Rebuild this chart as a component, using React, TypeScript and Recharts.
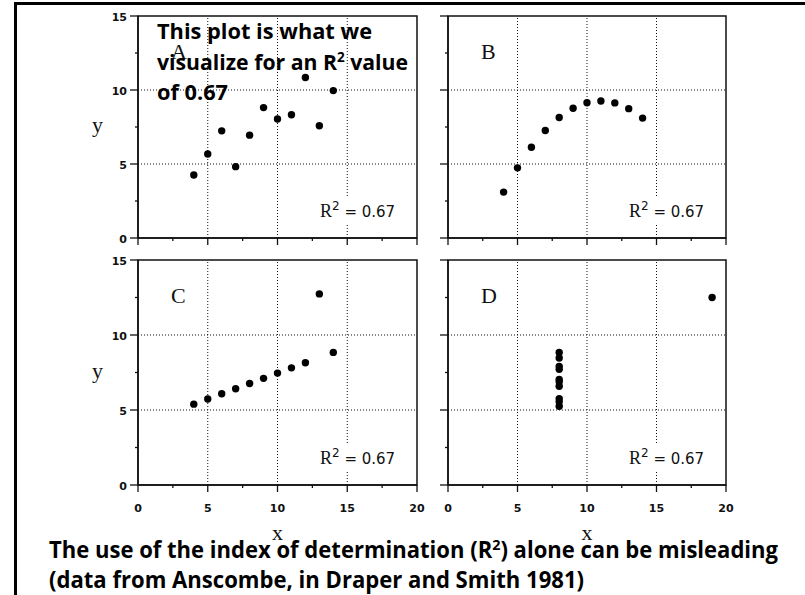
import React from 'react';
import { ScatterChart, Scatter, XAxis, YAxis, ReferenceLine, ReferenceArea } from 'recharts';

// Anscombe's quartet
const xABC = [10, 8, 13, 9, 11, 14, 6, 4, 12, 7, 5];
const yA = [8.04, 6.95, 7.58, 8.81, 8.33, 9.96, 7.24, 4.26, 10.84, 4.82, 5.68];
const yB = [9.14, 8.14, 8.74, 8.77, 9.26, 8.1, 6.13, 3.1, 9.13, 7.26, 4.74];
const yC = [7.46, 6.77, 12.74, 7.11, 7.81, 8.84, 6.08, 5.39, 8.15, 6.42, 5.73];
const xD = [8, 8, 8, 8, 8, 8, 8, 19, 8, 8, 8];
const yD = [6.58, 5.76, 7.71, 8.84, 8.47, 7.04, 5.25, 12.5, 5.56, 7.91, 6.89];

const xMajor = [0, 5, 10, 15, 20];
const xMinor = [2.5, 7.5, 12.5, 17.5];
const yMajor = [0, 5, 10, 15];
const yMinor = [2.5, 7.5, 12.5];
const xGrid = [5, 10, 15];
const yGrid = [5, 10];
const rSquared = '0.67';

const INK = '#111';
const PAD_L = 45;
const PAD_T = 10;
const PAD_R = 10;
const PAD_B = 35;

type PanelDef = {
  name: string;
  xs: number[];
  ys: number[];
  left: number;
  top: number;
  w: number;
  h: number;
  yLabels: boolean;
  xLabels: boolean;
};

const panels: PanelDef[] = [
  { name: 'A', xs: xABC, ys: yA, left: 138, top: 16, w: 279, h: 222, yLabels: true, xLabels: false },
  { name: 'B', xs: xABC, ys: yB, left: 448, top: 16, w: 278, h: 222, yLabels: false, xLabels: false },
  { name: 'C', xs: xABC, ys: yC, left: 138, top: 260, w: 279, h: 225, yLabels: true, xLabels: true },
  { name: 'D', xs: xD, ys: yD, left: 448, top: 260, w: 278, h: 225, yLabels: false, xLabels: true },
];

const tickFont = { fontFamily: 'DejaVu Sans', fontWeight: 700, fontSize: 11, fill: INK };
const typewriter = 'Liberation Serif';

function XTick(props: any) {
  const { x, y, payload, showLabel } = props;
  const major = xMajor.includes(payload.value);
  return (
    <g>
      <line x1={x} y1={y} x2={x} y2={y + (major ? 7 : 3)} stroke={INK} strokeWidth={1.3} />
      {major && showLabel && (
        <text x={x} y={y + 27} textAnchor="middle" {...tickFont}>
          {payload.value}
        </text>
      )}
    </g>
  );
}

function YTick(props: any) {
  const { x, y, payload, showLabel } = props;
  const major = yMajor.includes(payload.value);
  return (
    <g>
      <line x1={x} y1={y} x2={x - (major ? 8 : 3)} y2={y} stroke={INK} strokeWidth={1.3} />
      {major && showLabel && (
        <text x={x - 11} y={y + 4.5} textAnchor="end" {...tickFont}>
          {payload.value}
        </text>
      )}
    </g>
  );
}

function Panel({ p }: { p: PanelDef }) {
  const data = p.xs.map((x, i) => ({ x, y: p.ys[i] }));
  return (
    <div style={{ position: 'absolute', left: p.left - PAD_L, top: p.top - PAD_T }}>
      <ScatterChart
        width={p.w + PAD_L + PAD_R}
        height={p.h + PAD_T + PAD_B}
        margin={{ top: PAD_T, right: PAD_R, bottom: 0, left: 0 }}
      >
        <XAxis
          type="number"
          dataKey="x"
          domain={[0, 20]}
          ticks={[...xMajor, ...xMinor].sort((a, b) => a - b)}
          interval={0}
          tickSize={0}
          tickMargin={0}
          tickLine={false}
          height={PAD_B}
          axisLine={{ stroke: INK, strokeWidth: 1.5 }}
          tick={(t: any) => <XTick {...t} showLabel={p.xLabels} />}
        />
        <YAxis
          type="number"
          dataKey="y"
          domain={[0, 15]}
          ticks={[...yMajor, ...yMinor].sort((a, b) => a - b)}
          interval={0}
          tickSize={0}
          tickMargin={0}
          tickLine={false}
          width={PAD_L}
          axisLine={{ stroke: INK, strokeWidth: 1.5 }}
          tick={(t: any) => <YTick {...t} showLabel={p.yLabels} />}
        />
        {xGrid.map((v) => (
          <ReferenceLine key={`gx${v}`} x={v} stroke={INK} strokeWidth={1} strokeDasharray="1 2" />
        ))}
        {yGrid.map((v) => (
          <ReferenceLine key={`gy${v}`} y={v} stroke={INK} strokeWidth={1} strokeDasharray="1 2" />
        ))}
        <ReferenceArea x1={0} x2={20} y1={0} y2={15} fill="none" fillOpacity={0} stroke={INK} strokeWidth={1.5} />
        <Scatter
          data={data}
          isAnimationActive={false}
          shape={(s: any) => <circle cx={s.cx} cy={s.cy} r={3.7} fill="#000" />}
        />
      </ScatterChart>
    </div>
  );
}

function PanelText({ p }: { p: PanelDef }) {
  const right = p.left + p.w;
  const bottom = p.top + p.h;
  return (
    <g>
      <text x={p.left + 33} y={p.top + 43} fontFamily={typewriter} fontSize={22} fill={INK}>
        {p.name}
      </text>
      <rect x={right - 100} y={bottom - 42} width={82} height={28} fill="#fff" />
      <text x={right - 97} y={bottom - 21} fill={INK}>
        <tspan fontFamily={typewriter} fontSize={18}>R</tspan>
        <tspan fontFamily="DejaVu Sans" fontSize={12} dy={-7}>2</tspan>
        <tspan fontFamily="DejaVu Sans" fontSize={15} dy={7}>{` = ${rSquared}`}</tspan>
      </text>
      {p.yLabels && (
        <text x={92} y={p.top + p.h / 2 + 5} fontFamily={typewriter} fontSize={22} fill={INK}>
          y
        </text>
      )}
      {p.xLabels && (
        <text x={p.left + p.w / 2} y={540} textAnchor="middle" fontFamily={typewriter} fontSize={22} fill={INK}>
          x
        </text>
      )}
    </g>
  );
}

const noteFont = { fontFamily: 'Open Sans', fontWeight: 700, fill: '#000' };

export default function App() {
  return (
    <div
      style={{
        position: 'absolute',
        left: 0,
        top: 0,
        width: 805,
        height: 595,
        overflow: 'hidden',
        background: '#fff',
      }}
    >
      <div
        style={{
          position: 'absolute',
          left: 14,
          top: 2,
          width: 800,
          height: 600,
          borderTop: '3px solid #000',
          borderLeft: '3px solid #000',
        }}
      />
      {panels.map((p) => (
        <Panel key={p.name} p={p} />
      ))}
      <svg
        width={805}
        height={595}
        style={{ position: 'absolute', left: 0, top: 0, pointerEvents: 'none' }}
      >
        {panels.map((p) => (
          <PanelText key={p.name} p={p} />
        ))}
        <text x={157} y={39} fontSize={22} textLength={215} lengthAdjust="spacingAndGlyphs" {...noteFont}>
          This plot is what we
        </text>
        <text x={157} y={70} fontSize={22} textLength={251} lengthAdjust="spacingAndGlyphs" {...noteFont}>
          <tspan>visualize for an R</tspan>
          <tspan fontSize={14} dy={-8}>2</tspan>
          <tspan dy={8}> value</tspan>
        </text>
        <text x={157} y={100} fontSize={22} textLength={71} lengthAdjust="spacingAndGlyphs" {...noteFont}>
          of 0.67
        </text>
        <text x={49} y={558} fontSize={23} textLength={729} lengthAdjust="spacingAndGlyphs" {...noteFont}>
          <tspan>The use of the index of determination (R</tspan>
          <tspan fontSize={15} dy={-8}>2</tspan>
          <tspan dy={8}>) alone can be misleading</tspan>
        </text>
        <text x={49} y={588} fontSize={23} textLength={535} lengthAdjust="spacingAndGlyphs" {...noteFont}>
          (data from Anscombe, in Draper and Smith 1981)
        </text>
      </svg>
    </div>
  );
}
